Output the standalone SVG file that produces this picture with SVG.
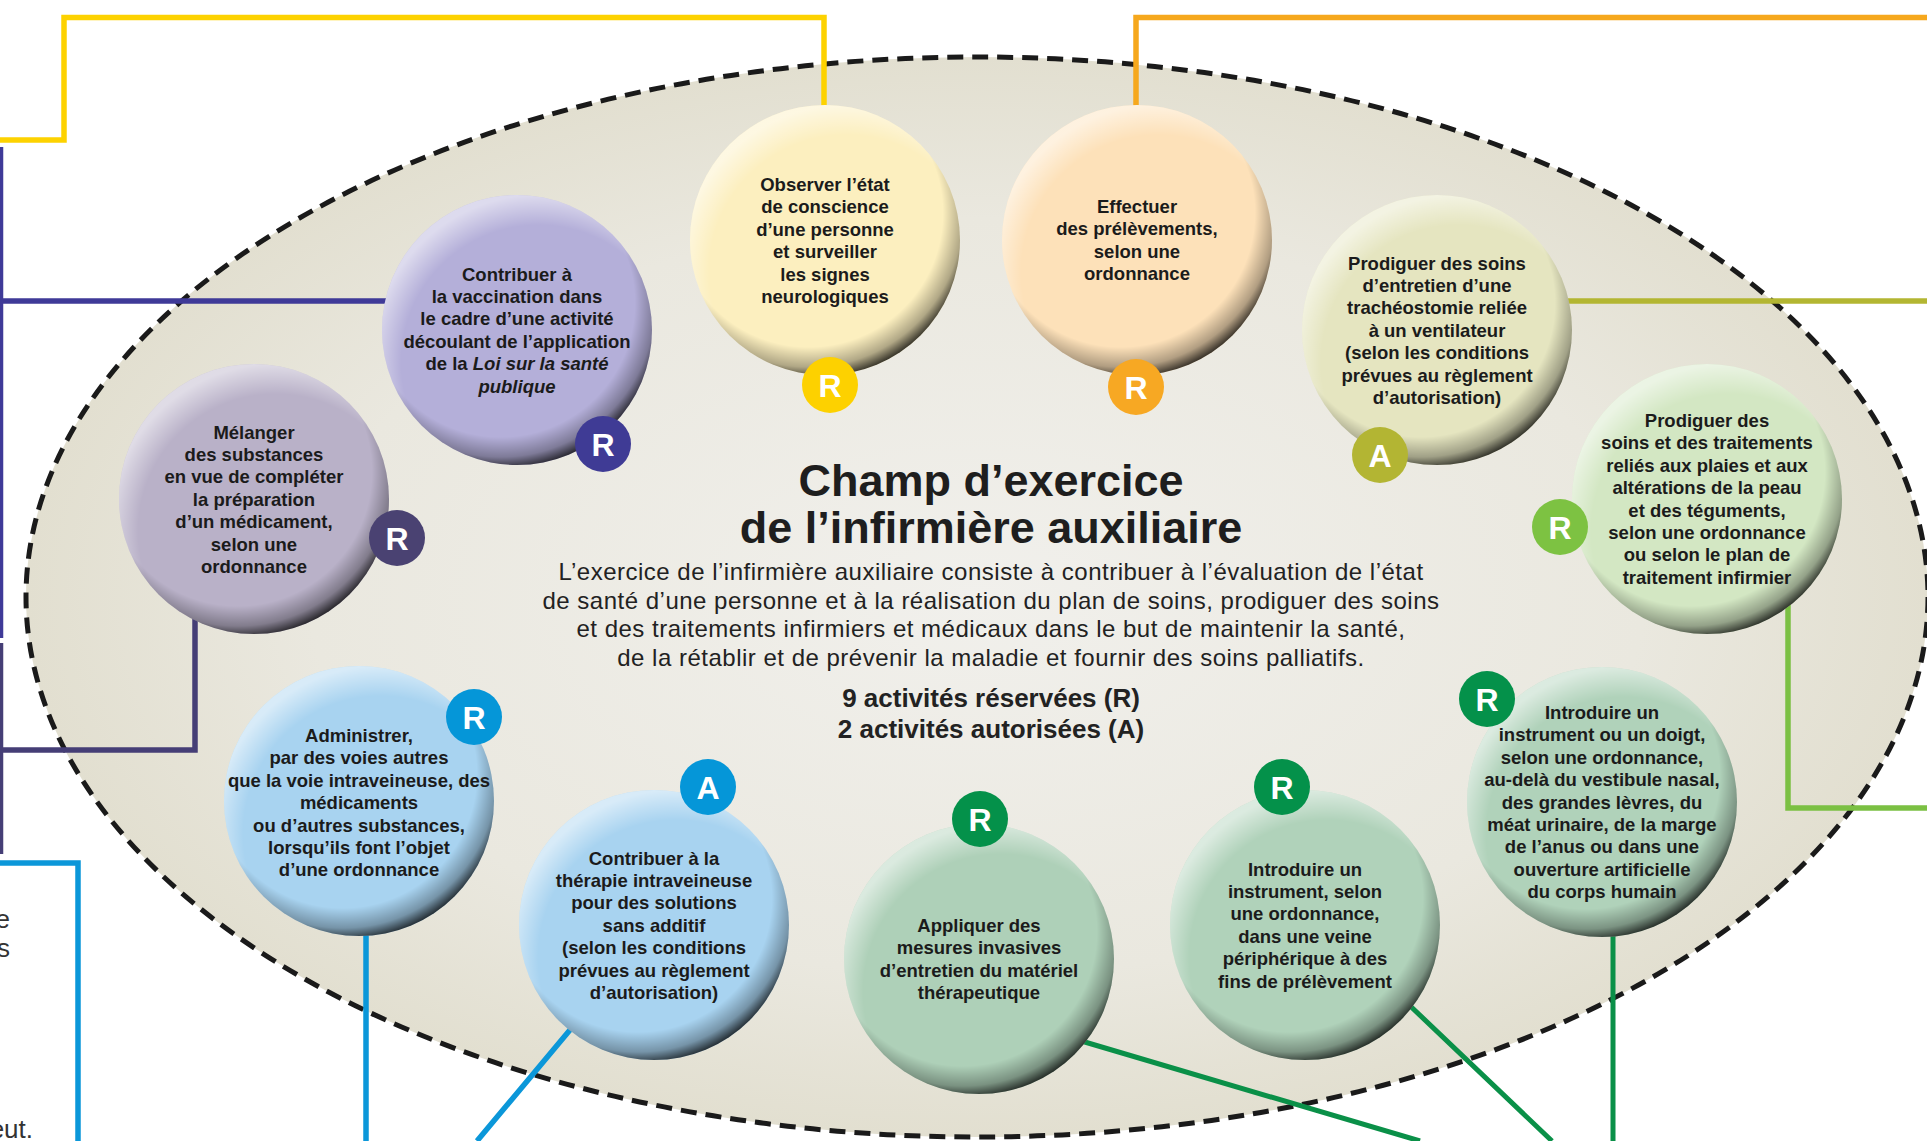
<svg xmlns="http://www.w3.org/2000/svg" width="1927" height="1141" viewBox="0 0 1927 1141">
<defs>
<radialGradient id="bg" cx="0.5" cy="0.5" r="0.5">
<stop offset="0" stop-color="#f1f0ec"/>
<stop offset="0.7" stop-color="#eae8df"/>
<stop offset="1" stop-color="#e2dfd0"/>
</radialGradient>
<radialGradient id="shade" cx="0.44" cy="0.4" r="0.62">
<stop offset="0.8" stop-color="#000" stop-opacity="0"/>
<stop offset="0.92" stop-color="#000" stop-opacity="0.3"/>
<stop offset="1" stop-color="#000" stop-opacity="0.82"/>
</radialGradient>
<radialGradient id="hl" cx="0.58" cy="0.62" r="0.62">
<stop offset="0.82" stop-color="#fff" stop-opacity="0"/>
<stop offset="1" stop-color="#fff" stop-opacity="0.55"/>
</radialGradient>
<style>
.nt{font-family:"Liberation Sans",Arial,sans-serif;font-weight:bold;font-size:18.5px;fill:#1b1b1b;text-anchor:middle}
.it{font-style:italic}
.bt{font-family:"Liberation Sans",Arial,sans-serif;font-weight:bold;font-size:32px;fill:#fff;text-anchor:middle}
.ln{fill:none;stroke-width:5.5}
.title{font-family:"Liberation Sans",Arial,sans-serif;font-weight:bold;font-size:45px;fill:#1e1e1e;text-anchor:middle}
.para{font-family:"Liberation Sans",Arial,sans-serif;font-size:24px;letter-spacing:0.5px;fill:#222;text-anchor:middle}
.cnt{font-family:"Liberation Sans",Arial,sans-serif;font-weight:bold;font-size:26px;fill:#222;text-anchor:middle}
.side{font-family:"Liberation Sans",Arial,sans-serif;font-size:26px;fill:#333;text-anchor:end}
.sh{fill:url(#shade)}
.hl{fill:url(#hl)}
</style>
</defs>
<rect width="1927" height="1141" fill="#fff"/>
<ellipse cx="977" cy="597" rx="951" ry="540" fill="url(#bg)" stroke="#1a1a1a" stroke-width="5" stroke-dasharray="16 9"/>

<text class="side" x="10" y="928">e</text>
<text class="side" x="10" y="957">s</text>
<text class="side" x="33" y="1138">eut.</text>

<g id="connectors" class="ln">
<path d="M0,140 H64 V17.5 H824 V112" stroke="#fdd200"/>
<path d="M1927,17.5 H1136 V112" stroke="#f6a81d"/>
<path d="M0.5,147 V638 M0,301 H400" stroke="#3f3a98"/>
<path d="M0.5,643 V854 M0,750 H195 V600" stroke="#453e76"/>
<path d="M0,863 H78 V1141 M366,920 V1141 M590,1006 L477,1141" stroke="#0b97d9"/>
<path d="M1560,301 H1927" stroke="#b3b632"/>
<path d="M1788,600 V808 H1927" stroke="#7bc043"/>
<path d="M1078,1040 L1420,1141 M1405,1001 L1552,1141 M1613,920 V1141" stroke="#0a9048" stroke-width="5"/>
</g>

<g id="node-observer">
<circle cx="825" cy="240" r="135" fill="#fcefbf"/>
<circle cx="825" cy="240" r="135" class="sh"/>
<circle cx="825" cy="240" r="135" class="hl"/>
<text class="nt"><tspan x="825" y="191">Observer l’état</tspan><tspan x="825" dy="22.4">de conscience</tspan><tspan x="825" dy="22.4">d’une personne</tspan><tspan x="825" dy="22.4">et surveiller</tspan><tspan x="825" dy="22.4">les signes</tspan><tspan x="825" dy="22.4">neurologiques</tspan></text>
<circle cx="830" cy="385" r="28" fill="#fdd100"/>
<text class="bt" x="830" y="397">R</text>
</g>

<g id="node-effectuer">
<circle cx="1137" cy="240" r="135" fill="#fde1b9"/>
<circle cx="1137" cy="240" r="135" class="sh"/>
<circle cx="1137" cy="240" r="135" class="hl"/>
<text class="nt"><tspan x="1137" y="213">Effectuer</tspan><tspan x="1137" dy="22.4">des prélèvements,</tspan><tspan x="1137" dy="22.4">selon une</tspan><tspan x="1137" dy="22.4">ordonnance</tspan></text>
<circle cx="1136" cy="387" r="28" fill="#f7a823"/>
<text class="bt" x="1136" y="399">R</text>
</g>

<g id="node-vaccination">
<circle cx="517" cy="330" r="135" fill="#b4afd9"/>
<circle cx="517" cy="330" r="135" class="sh"/>
<circle cx="517" cy="330" r="135" class="hl"/>
<text class="nt"><tspan x="517" y="280.5">Contribuer à</tspan><tspan x="517" dy="22.4">la vaccination dans</tspan><tspan x="517" dy="22.4">le cadre d’une activité</tspan><tspan x="517" dy="22.4">découlant de l’application</tspan><tspan x="517" dy="22.4">de la <tspan class="it">Loi sur la santé</tspan></tspan><tspan x="517" dy="22.4" class="it">publique</tspan></text>
<circle cx="603" cy="444" r="28" fill="#3f3b95"/>
<text class="bt" x="603" y="456">R</text>
</g>

<g id="node-melanger">
<circle cx="254" cy="499" r="135" fill="#b9b1c8"/>
<circle cx="254" cy="499" r="135" class="sh"/>
<circle cx="254" cy="499" r="135" class="hl"/>
<text class="nt"><tspan x="254" y="438.5">Mélanger</tspan><tspan x="254" dy="22.4">des substances</tspan><tspan x="254" dy="22.4">en vue de compléter</tspan><tspan x="254" dy="22.4">la préparation</tspan><tspan x="254" dy="22.4">d’un médicament,</tspan><tspan x="254" dy="22.4">selon une</tspan><tspan x="254" dy="22.4">ordonnance</tspan></text>
<circle cx="397" cy="538" r="28" fill="#4a4272"/>
<text class="bt" x="397" y="550">R</text>
</g>

<g id="node-administrer">
<circle cx="359" cy="801" r="135" fill="#a8d3f0"/>
<circle cx="359" cy="801" r="135" class="sh"/>
<circle cx="359" cy="801" r="135" class="hl"/>
<text class="nt"><tspan x="359" y="742">Administrer,</tspan><tspan x="359" dy="22.4">par des voies autres</tspan><tspan x="359" dy="22.4">que la voie intraveineuse, des</tspan><tspan x="359" dy="22.4">médicaments</tspan><tspan x="359" dy="22.4">ou d’autres substances,</tspan><tspan x="359" dy="22.4">lorsqu’ils font l’objet</tspan><tspan x="359" dy="22.4">d’une ordonnance</tspan></text>
<circle cx="474" cy="717" r="28" fill="#0596d8"/>
<text class="bt" x="474" y="729">R</text>
</g>

<g id="node-therapie">
<circle cx="654" cy="925" r="135" fill="#a8d3f0"/>
<circle cx="654" cy="925" r="135" class="sh"/>
<circle cx="654" cy="925" r="135" class="hl"/>
<text class="nt"><tspan x="654" y="864.5">Contribuer à la</tspan><tspan x="654" dy="22.4">thérapie intraveineuse</tspan><tspan x="654" dy="22.4">pour des solutions</tspan><tspan x="654" dy="22.4">sans additif</tspan><tspan x="654" dy="22.4">(selon les conditions</tspan><tspan x="654" dy="22.4">prévues au règlement</tspan><tspan x="654" dy="22.4">d’autorisation)</tspan></text>
<circle cx="708" cy="787" r="28" fill="#0596d8"/>
<text class="bt" x="708" y="799">A</text>
</g>

<g id="node-appliquer">
<circle cx="979" cy="959" r="135" fill="#aed0b8"/>
<circle cx="979" cy="959" r="135" class="sh"/>
<circle cx="979" cy="959" r="135" class="hl"/>
<text class="nt"><tspan x="979" y="932">Appliquer des</tspan><tspan x="979" dy="22.4">mesures invasives</tspan><tspan x="979" dy="22.4">d’entretien du matériel</tspan><tspan x="979" dy="22.4">thérapeutique</tspan></text>
<circle cx="980" cy="819" r="28" fill="#04914a"/>
<text class="bt" x="980" y="831">R</text>
</g>

<g id="node-veine">
<circle cx="1305" cy="925" r="135" fill="#b0d2ba"/>
<circle cx="1305" cy="925" r="135" class="sh"/>
<circle cx="1305" cy="925" r="135" class="hl"/>
<text class="nt"><tspan x="1305" y="875.5">Introduire un</tspan><tspan x="1305" dy="22.4">instrument, selon</tspan><tspan x="1305" dy="22.4">une ordonnance,</tspan><tspan x="1305" dy="22.4">dans une veine</tspan><tspan x="1305" dy="22.4">périphérique à des</tspan><tspan x="1305" dy="22.4">fins de prélèvement</tspan></text>
<circle cx="1282" cy="787" r="28" fill="#04914a"/>
<text class="bt" x="1282" y="799">R</text>
</g>

<g id="node-doigt">
<circle cx="1602" cy="802" r="135" fill="#b0d2ba"/>
<circle cx="1602" cy="802" r="135" class="sh"/>
<circle cx="1602" cy="802" r="135" class="hl"/>
<text class="nt"><tspan x="1602" y="719">Introduire un</tspan><tspan x="1602" dy="22.4">instrument ou un doigt,</tspan><tspan x="1602" dy="22.4">selon une ordonnance,</tspan><tspan x="1602" dy="22.4">au-delà du vestibule nasal,</tspan><tspan x="1602" dy="22.4">des grandes lèvres, du</tspan><tspan x="1602" dy="22.4">méat urinaire, de la marge</tspan><tspan x="1602" dy="22.4">de l’anus ou dans une</tspan><tspan x="1602" dy="22.4">ouverture artificielle</tspan><tspan x="1602" dy="22.4">du corps humain</tspan></text>
<circle cx="1487" cy="699" r="28" fill="#04914a"/>
<text class="bt" x="1487" y="711">R</text>
</g>

<g id="node-plaies">
<circle cx="1707" cy="499" r="135" fill="#d3e7c3"/>
<circle cx="1707" cy="499" r="135" class="sh"/>
<circle cx="1707" cy="499" r="135" class="hl"/>
<text class="nt"><tspan x="1707" y="427">Prodiguer des</tspan><tspan x="1707" dy="22.4">soins et des traitements</tspan><tspan x="1707" dy="22.4">reliés aux plaies et aux</tspan><tspan x="1707" dy="22.4">altérations de la peau</tspan><tspan x="1707" dy="22.4">et des téguments,</tspan><tspan x="1707" dy="22.4">selon une ordonnance</tspan><tspan x="1707" dy="22.4">ou selon le plan de</tspan><tspan x="1707" dy="22.4">traitement infirmier</tspan></text>
<circle cx="1560" cy="527" r="28" fill="#7dc242"/>
<text class="bt" x="1560" y="539">R</text>
</g>

<g id="node-tracheostomie">
<circle cx="1437" cy="330" r="135" fill="#e5e5c0"/>
<circle cx="1437" cy="330" r="135" class="sh"/>
<circle cx="1437" cy="330" r="135" class="hl"/>
<text class="nt"><tspan x="1437" y="269.5">Prodiguer des soins</tspan><tspan x="1437" dy="22.4">d’entretien d’une</tspan><tspan x="1437" dy="22.4">trachéostomie reliée</tspan><tspan x="1437" dy="22.4">à un ventilateur</tspan><tspan x="1437" dy="22.4">(selon les conditions</tspan><tspan x="1437" dy="22.4">prévues au règlement</tspan><tspan x="1437" dy="22.4">d’autorisation)</tspan></text>
<circle cx="1380" cy="455" r="28" fill="#b3b533"/>
<text class="bt" x="1380" y="467">A</text>
</g>

<g id="center">
<text class="title"><tspan x="991" y="496">Champ d’exercice</tspan><tspan x="991" y="543">de l’infirmière auxiliaire</tspan></text>
<text class="para"><tspan x="991" y="580">L’exercice de l’infirmière auxiliaire consiste à contribuer à l’évaluation de l’état</tspan><tspan x="991" y="608.5">de santé d’une personne et à la réalisation du plan de soins, prodiguer des soins</tspan><tspan x="991" y="637">et des traitements infirmiers et médicaux dans le but de maintenir la santé,</tspan><tspan x="991" y="665.5">de la rétablir et de prévenir la maladie et fournir des soins palliatifs.</tspan></text>
<text class="cnt"><tspan x="991" y="707">9 activités réservées (R)</tspan><tspan x="991" y="738">2 activités autorisées (A)</tspan></text>
</g>
</svg>
